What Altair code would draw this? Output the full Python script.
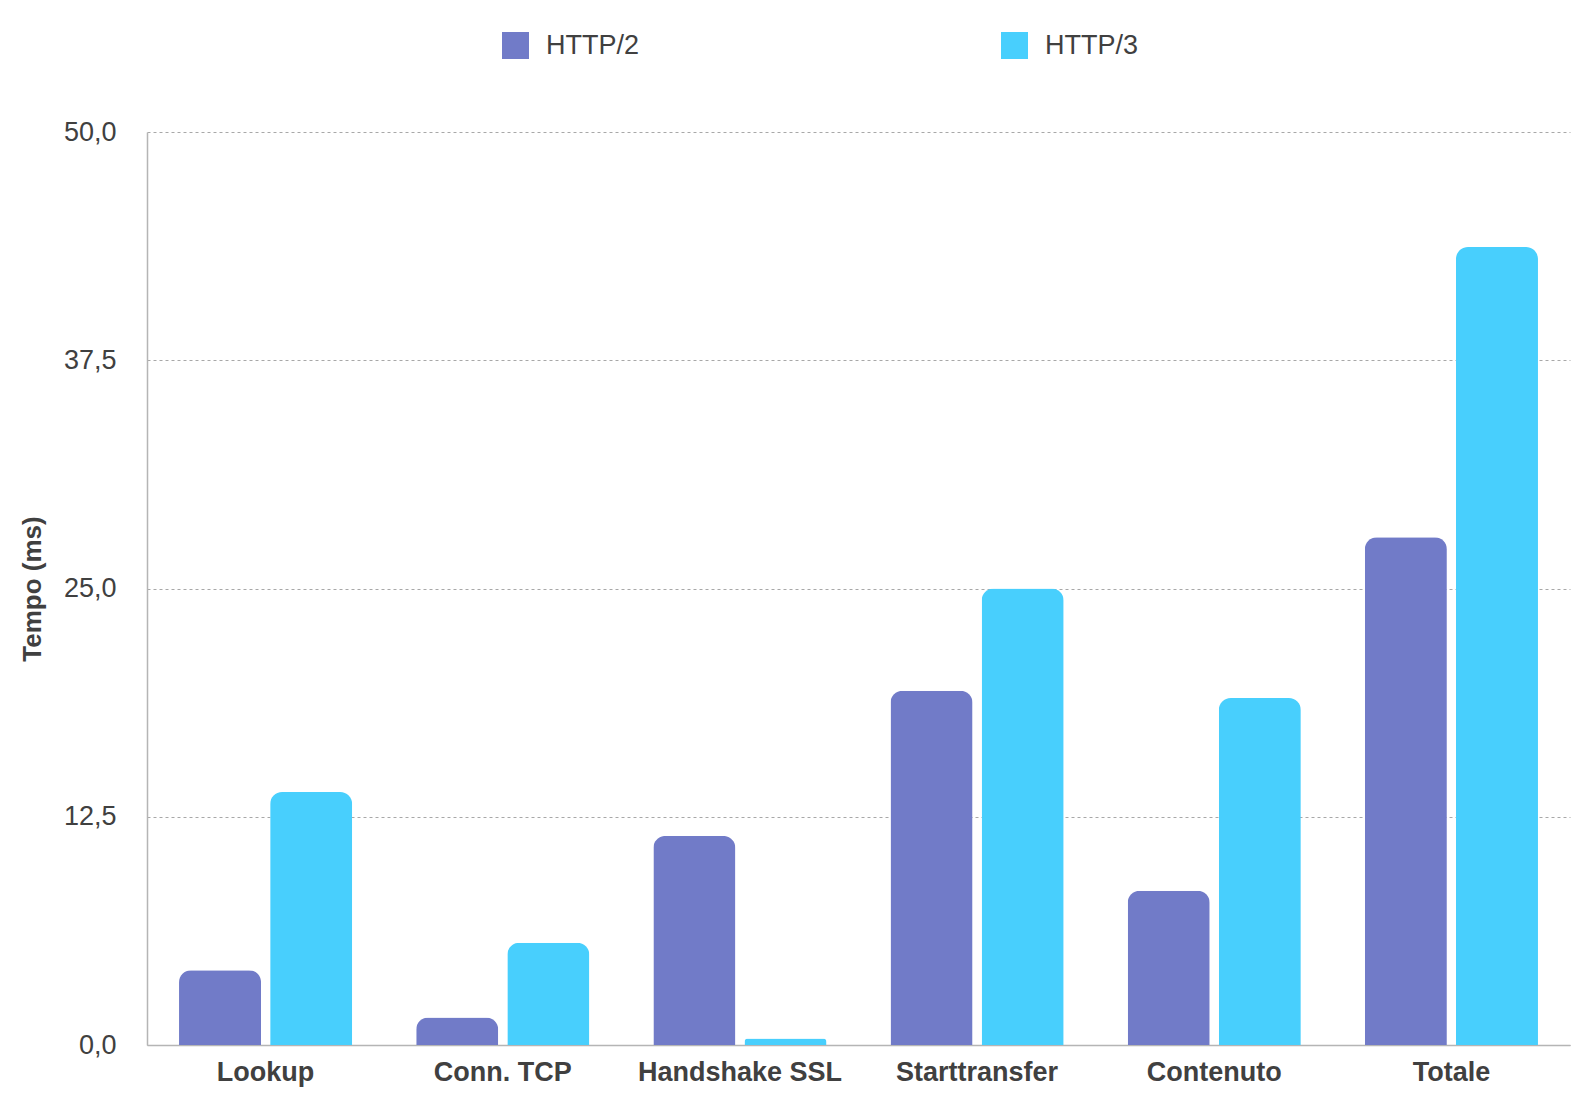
import altair as alt
import pandas as pd

categories = ["Lookup", "Conn. TCP", "Handshake SSL", "Starttransfer", "Contenuto", "Totale"]
series = ["HTTP/2", "HTTP/3"]
http2 = [4.1, 1.5, 11.45, 19.4, 8.45, 27.8]
http3 = [13.85, 5.6, 0.35, 25.0, 19.0, 43.7]
y_ticks = [0, 12.5, 25, 37.5, 50]
colors = ["#717BC8", "#48CFFD"]

rows = []
for c, a, b in zip(categories, http2, http3):
    rows.append({"Fase": c, "Protocollo": series[0], "Tempo": a})
    rows.append({"Fase": c, "Protocollo": series[1], "Tempo": b})
df = pd.DataFrame(rows)

FONT = "Liberation Sans"
TXT = "#404040"

chart = alt.Chart(df).mark_bar(
    cornerRadiusTopLeft=12, cornerRadiusTopRight=12
).encode(
    x=alt.X("Fase:N", sort=categories,
            scale=alt.Scale(paddingInner=0.27, paddingOuter=0.135),
            axis=alt.Axis(title=None, labelAngle=0, ticks=False, labelPadding=14,
                          labelFontSize=27, labelFontWeight="bold", labelColor=TXT,
                          labelFont=FONT, labelLimit=1000,
                          domainColor="#b5b5b5", domainWidth=1.5, grid=False)),
    xOffset=alt.XOffset("Protocollo:N", sort=series,
                        scale=alt.Scale(paddingInner=0.1)),
    y=alt.Y("Tempo:Q", scale=alt.Scale(domain=[0, 50], nice=False),
            axis=alt.Axis(title="Tempo (ms)", values=y_ticks, ticks=False,
                          labelExpr="replace(format(datum.value, '.1f'), '.', ',')",
                          labelFontSize=27, labelColor=TXT, labelFont=FONT,
                          labelPadding=31, titleFontSize=26, titleFont=FONT,
                          titleFontWeight="bold", titleColor=TXT, titlePadding=18,
                          domainColor="#b5b5b5", domainWidth=1.5,
                          grid=True, gridColor="#a8a8a8", gridDash=[3, 3],
                          gridWidth=1)),
    color=alt.Color("Protocollo:N", sort=series,
                    scale=alt.Scale(domain=series, range=colors),
                    legend=alt.Legend(title=None, orient="none", direction="horizontal",
                                      legendX=355, legendY=-100, symbolType="square",
                                      symbolSize=729, symbolStrokeWidth=0,
                                      labelOffset=17, columnPadding=361,
                                      labelFontSize=27, labelFont=FONT, labelColor=TXT,
                                      padding=0)),
).properties(
    width=1423, height=913,
    background="white",
    autosize=alt.AutoSizeParams(type="none"),
    padding={"left": 139, "top": 124, "right": 14, "bottom": 65},
).configure_view(strokeWidth=0, stroke="transparent")

chart.save("out.html", embed_options={"renderer": "svg", "actions": False})
